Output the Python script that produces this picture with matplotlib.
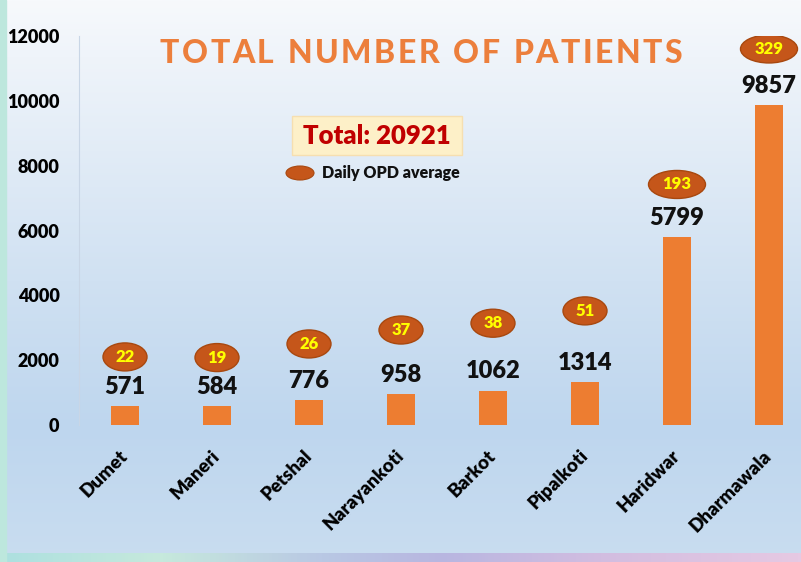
"""
Total number of patients per centre, with daily OPD average bubbles.
"""
import numpy as np
import matplotlib.pyplot as plt
from matplotlib.patches import Ellipse, FancyBboxPatch
from matplotlib.colors import LinearSegmentedColormap

centres = ['Dumet', 'Maneri', 'Petshal', 'Narayankoti', 'Barkot',
           'Pipalkoti', 'Haridwar', 'Dharmawala']
patients = [571, 584, 776, 958, 1062, 1314, 5799, 9857]
opd_avg = [22, 19, 26, 37, 38, 51, 193, 329]
total = 20921
yticks = [0, 2000, 4000, 6000, 8000, 10000, 12000]

# layout: height (in data units) where each OPD bubble sits
bubble_y = [2100, 2080, 2500, 2930, 3140, 3520, 7420, 11600]

plt.rcParams['font.family'] = ['Lato', 'DejaVu Sans']
W, H = 801, 562
fig = plt.figure(figsize=(W / 100, H / 100), dpi=100)

# background gradient
bg = fig.add_axes([0, 0, 1, 1], zorder=-10)
bg_cmap = LinearSegmentedColormap.from_list('bg', [
    (0.0, '#f7f9fc'), (0.1, '#eff4fa'), (0.5, '#d0e1f2'),
    (0.76, '#bed6ee'), (1.0, '#c9ddf0')])
bg.imshow(np.linspace(0, 1, 256).reshape(-1, 1), aspect='auto', cmap=bg_cmap,
          extent=[0, 1, 0, 1], origin='upper')
bg.set_xlim(0, 1)
bg.set_ylim(0, 1)
bg.axis('off')

# left and bottom decorative strips
strip_cmap = LinearSegmentedColormap.from_list('strip', [
    (0.0, '#ade0e0'), (0.2, '#c6e9dc'), (0.4, '#b9c8e4'), (0.55, '#b8b6e0'),
    (0.75, '#d2bde0'), (1.0, '#e6c9e3')])
bottom = fig.add_axes([0, 0, 1, 9 / H], zorder=-5)
bottom.imshow(np.linspace(0, 1, 256).reshape(1, -1), aspect='auto', cmap=strip_cmap)
bottom.axis('off')
fig.add_artist(plt.Rectangle((0, 0), 6 / W, 1, transform=fig.transFigure,
                             color='#bde7dd', zorder=-4))

ax = fig.add_axes([79 / W, 137 / H, 1 - 79 / W, 389 / H])
ax.patch.set_alpha(0)
x = np.arange(len(centres))
ax.bar(x, patients, width=0.315, color='#ed7d31', zorder=3)

for xi, v in zip(x, patients):
    ax.annotate(str(v), (xi, v), xytext=(0, 6), textcoords='offset points',
                ha='center', va='bottom', fontsize=17, fontweight='heavy', color='#111111')

px_x = 92.0            # pixels per category
px_y = 389.0 / 12000   # pixels per data unit
for xi, by, n in zip(x, bubble_y, opd_avg):
    w = 44 if n < 100 else 57
    ax.add_patch(Ellipse((xi, by), w / px_x, 28 / px_y, facecolor='#c5561a',
                         edgecolor='#a8480f', linewidth=1, zorder=4))
    ax.text(xi, by, str(n), ha='center', va='center', fontsize=12,
            fontweight='heavy', color='#ffff00', zorder=5)

ax.set_xlim(-0.5, (W - 125) / px_x)
ax.set_ylim(0, 12000)
ax.set_yticks(yticks)
ax.set_yticklabels([str(t) for t in yticks], fontsize=13, fontweight='heavy')
ax.set_xticks(x)
ax.set_xticklabels(centres, rotation=45, ha='right', va='center',
                   rotation_mode='anchor', fontsize=13.5, fontweight='heavy')
ax.tick_params(axis='y', length=0, pad=14)
ax.tick_params(axis='x', length=0, pad=20)
for s in ['top', 'right', 'bottom']:
    ax.spines[s].set_visible(False)
ax.spines['left'].set_color('#c9d6e6')

# total box and legend
fig.add_artist(FancyBboxPatch((292 / W, 1 - 155 / H), 170 / W, 39 / H,
                              boxstyle='square,pad=0', transform=fig.transFigure,
                              facecolor='#fdf0c8', edgecolor='#f6dfb0', linewidth=1))
fig.text(377 / W, 1 - 136 / H, 'Total: %d' % total, ha='center', va='center',
         fontsize=18.5, fontweight='heavy', color='#c00000')
fig.add_artist(Ellipse((300 / W, 1 - 173 / H), 28 / W, 14 / H, transform=fig.transFigure,
                       facecolor='#c5561a', edgecolor='#a8480f', linewidth=0.8))
fig.text(322 / W, 1 - 173 / H, 'Daily OPD average', ha='left', va='center',
         fontsize=11.5, fontweight='heavy', color='#111111')

# letter-spaced title
title = 'TOTAL NUMBER OF PATIENTS'
r = fig.canvas.get_renderer()
widths = []
for ch in title:
    if ch == ' ':
        widths.append(0)
        continue
    t = fig.text(0, 0, ch, fontsize=23, fontweight='black')
    widths.append(t.get_window_extent(r).width)
    t.remove()
left, right = 160, 682
space_w = 9
track = (right - left - sum(widths) - space_w * title.count(' ')) / (len(title) - 1)
pos = left
for ch, w in zip(title, widths):
    if ch != ' ':
        fig.text(pos / W, 1 - 63 / H, ch, ha='left', va='baseline', fontsize=23,
                 fontweight='black', color='#ec7f3c')
        pos += w + track
    else:
        pos += space_w + track

fig.savefig('out.png', dpi=100)
